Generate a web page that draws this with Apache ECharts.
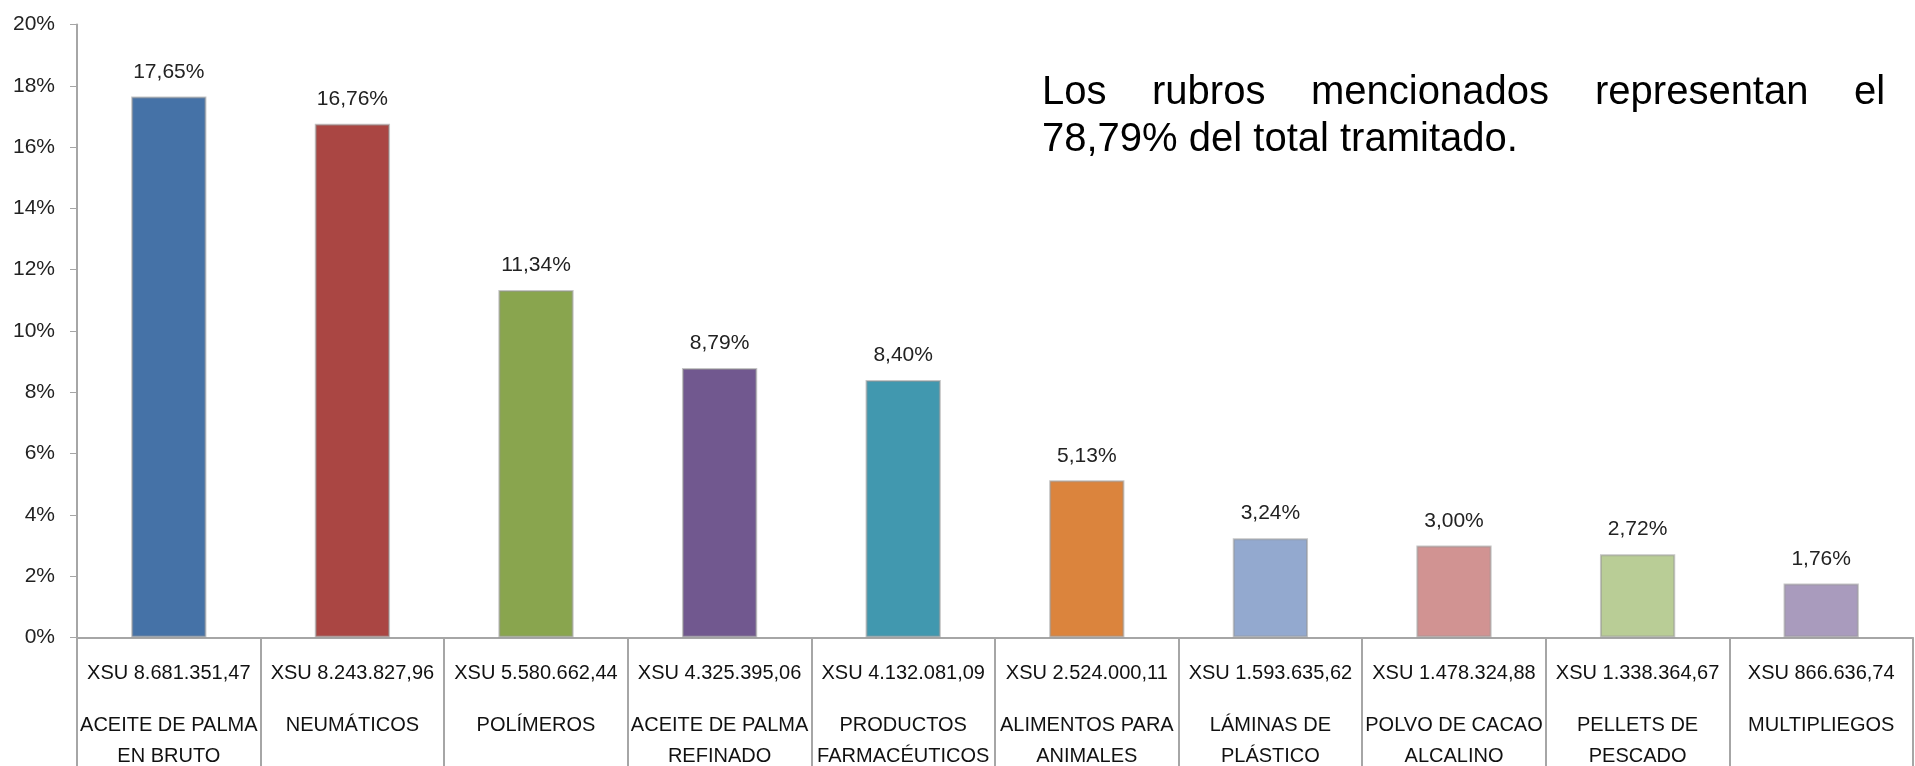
<!DOCTYPE html>
<html>
<head>
<meta charset="utf-8">
<script src="https://cdn.jsdelivr.net/npm/echarts@6/dist/echarts.min.js"></script>
<style>
html,body{margin:0;padding:0;background:#fff;}
#chart{width:1915px;height:766px;}
</style>
</head>
<body>
<div id="chart"></div>
<script>
// ---- data ----
var amounts = ['XSU 8.681.351,47','XSU 8.243.827,96','XSU 5.580.662,44','XSU 4.325.395,06','XSU 4.132.081,09','XSU 2.524.000,11','XSU 1.593.635,62','XSU 1.478.324,88','XSU 1.338.364,67','XSU 866.636,74'];
var names = ['ACEITE DE PALMA\nEN BRUTO','NEUMÁTICOS','POLÍMEROS','ACEITE DE PALMA\nREFINADO','PRODUCTOS\nFARMACÉUTICOS','ALIMENTOS PARA\nANIMALES','LÁMINAS DE\nPLÁSTICO','POLVO DE CACAO\nALCALINO','PELLETS DE\nPESCADO','MULTIPLIEGOS'];
var shares = [17.65, 16.76, 11.34, 8.79, 8.40, 5.13, 3.24, 3.00, 2.72, 1.76];
var barColors = ['#4572A7','#AA4643','#89A54E','#71588F','#4198AF','#DB843D','#93A9CF','#D19392','#B9CD96','#A99BBD'];
var yTicks = [0, 2, 4, 6, 8, 10, 12, 14, 16, 18, 20];
var noteLine1 = 'Los rubros mencionados representan el';
var noteLine2 = '78,79% del total tramitado.';

var categories = amounts.map(function(a, i){ return a + '\n' + names[i]; });

// justified first line of the note
var noteFont = '40px "Liberation Sans", Arial, sans-serif';
var cv = document.createElement('canvas').getContext('2d');
cv.font = noteFont;
var words = noteLine1.split(' ');
var noteLeft = 1042, noteRight = 1885;
var widths = words.map(function(w){ return cv.measureText(w).width; });
var sumW = widths.reduce(function(a,b){return a+b;},0);
var gap = (noteRight - noteLeft - sumW) / (words.length - 1);
var graphics = [];
var xCur = noteLeft;
words.forEach(function(w, i){
  graphics.push({type:'text', left: Math.round(xCur), top: 73,
    style:{text:w, font: noteFont, fill:'#000'}});
  xCur += widths[i] + gap;
});
graphics.push({type:'text', left: noteLeft, top: 120,
  style:{text: noteLine2, font: noteFont, fill:'#000'}});

var labelFont = '"Liberation Sans", Arial, sans-serif';
var chart = echarts.init(document.getElementById('chart'));
chart.setOption({
  animation:false,
  backgroundColor:'#fff',
  grid:{left:77, right:2, top:24.5, bottom:128},
  xAxis:{
    type:'category',
    data:categories,
    boundaryGap:true,
    axisLine:{lineStyle:{color:'#a6a6a6', width:2}},
    axisTick:{show:true, alignWithLabel:false, interval:0, length:130, lineStyle:{color:'#a6a6a6', width:2}},
    axisLabel:{
      interval:0, margin:0,
      formatter:function(v){
        var p = v.split('\n');
        return '{v|' + p[0] + '}\n' + p.slice(1).map(function(s){return '{n|'+s+'}';}).join('\n');
      },
      rich:{
        v:{fontFamily:labelFont, fontSize:20, color:'#111', lineHeight:72},
        n:{fontFamily:labelFont, fontSize:20, color:'#111', lineHeight:31}
      }
    }
  },
  yAxis:{
    type:'value', min:yTicks[0], max:yTicks[yTicks.length-1], interval:yTicks[1]-yTicks[0],
    splitLine:{show:false},
    axisLine:{show:true, lineStyle:{color:'#a6a6a6', width:2}},
    axisTick:{show:true, length:7, lineStyle:{color:'#a6a6a6', width:1}},
    axisLabel:{margin:22, fontFamily:labelFont, fontSize:21, color:'#222',
      formatter:function(v){ return v + '%'; }}
  },
  series:[{
    type:'bar',
    data:shares.map(function(v,i){ return {value:v, itemStyle:{color:barColors[i]}}; }),
    barWidth:'41%',
    itemStyle:{borderColor:'rgba(150,150,150,0.55)', borderWidth:2},
    label:{show:true, position:'top', distance:14,
      fontFamily:labelFont, fontSize:21, color:'#222',
      formatter:function(p){ return p.value.toFixed(2).replace('.', ',') + '%'; }}
  }],
  graphic:graphics
});
</script>
</body>
</html>
